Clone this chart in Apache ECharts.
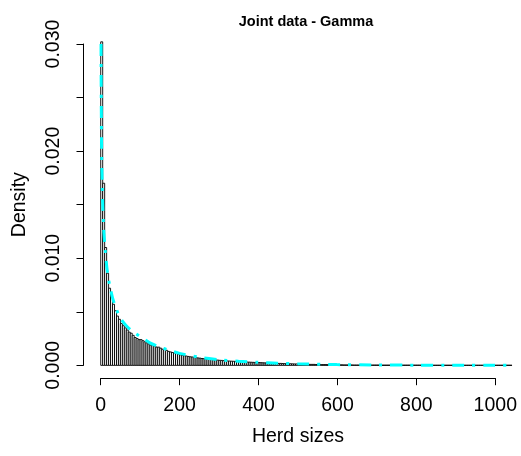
<!DOCTYPE html>
<html><head><meta charset="utf-8">
<script src="https://cdn.jsdelivr.net/npm/echarts@6/dist/echarts.min.js"></script>
<style>html,body{margin:0;padding:0;background:#fff}#c{width:521px;height:456px}</style>
</head><body><div id="c"></div>
<script>
// Histogram: bin width and density of each bin (bins start at 0)
const binWidth = 5;
const densities = [
  0.0302, 0.0170, 0.0110, 0.0086, 0.0072, 0.0064, 0.0057, 0.0051, 0.0046, 0.0043,
  0.0039, 0.0037, 0.0035, 0.0033, 0.0031, 0.0030, 0.0028, 0.0026, 0.0025, 0.0024,
  0.0024, 0.0023, 0.0022, 0.0021, 0.0020, 0.0019, 0.0019, 0.0018, 0.0017, 0.0017,
  0.0016, 0.0015, 0.0015, 0.0014, 0.0013, 0.00125, 0.0012, 0.00115, 0.0011, 0.00105,
  0.00098, 0.00094, 0.00090, 0.00087, 0.00083, 0.00080, 0.00078, 0.00075, 0.00072, 0.00069,
  0.00067, 0.00064, 0.00062, 0.00060, 0.00058, 0.00056, 0.00054, 0.00052, 0.00050, 0.00049,
  0.00047, 0.00046, 0.00044, 0.00043, 0.00041, 0.00040, 0.00039, 0.00038, 0.00037, 0.00036,
  0.00035, 0.00034, 0.00033, 0.00032, 0.00031, 0.00030, 0.00029, 0.00028, 0.00027, 0.00026,
  0.00026, 0.00025, 0.00024, 0.00023, 0.00023, 0.00022, 0.00021, 0.00020, 0.00020, 0.00019,
  0.00018, 0.00018, 0.00017, 0.00016, 0.00016, 0.00015, 0.00015, 0.00014, 0.00013, 0.00013,
  0.00012, 0.00012, 0.00011, 0.00011, 0.00010, 0.00010, 0.00009, 0.00009, 0.00009, 0.00008,
  0.00008, 0.00008, 0.00007, 0.00007, 0.00007, 0.00006, 0.00006, 0.00006, 0.00006, 0.00005,
  0.00005, 0.00005, 0.00005, 0.00004, 0.00004, 0.00004, 0.00004, 0.00004, 0.00003, 0.00003,
  0.00003, 0.00003, 0.00003, 0.00003, 0.00003, 0.00003, 0.00003, 0.00003, 0.00003, 0.00003,
  0.00003, 0.00003, 0.00002, 0.00002, 0.00002, 0.00002, 0.00002, 0.00002, 0.00002, 0.00002,
  0.00002, 0.00002, 0.00002, 0.00002, 0.00002, 0.00002, 0.00002, 0.00002, 0.00002, 0.00002,
  0.00002, 0.00002, 0.00002, 0.00002, 0.00002, 0.00001, 0.00001, 0.00001, 0.00001, 0.00001,
  0.00001, 0.00001, 0.00001, 0.00001, 0.00001, 0.00001, 0.00001, 0.00001, 0.00001, 0.00001,
  0.00001, 0.00001, 0.00001, 0.00001, 0.00001, 0.00001, 0.00001, 0.00001, 0.00001, 0.00001,
  0.00001, 0.00001, 0.00001, 0.00001, 0.00001, 0.00001, 0.00001, 0.00001, 0.00001, 0.00001,
  0.00001, 0.00001, 0.00001, 0.00001, 0.00001, 0.00001, 0.00001, 0.00001, 0.00001
];
// Fitted gamma density curve
const curveX = [0.75, 1, 2, 3, 5, 8, 12, 16, 22, 30, 40, 52, 65, 80, 100, 125, 150, 175, 200, 250, 300, 350, 400, 450, 500, 600, 700, 800, 900, 1000, 1045];
const curveY = [0.0300, 0.0271, 0.0211, 0.0182, 0.0150, 0.0124, 0.0105, 0.0090, 0.0076, 0.0063, 0.0052, 0.0043, 0.0037, 0.0032, 0.0027, 0.0021, 0.0017, 0.0014, 0.00112, 0.00076, 0.00053, 0.00038, 0.00028, 0.00020, 0.00014, 0.00007, 0.000035, 0.000018, 0.000009, 0.000005, 0.000003];
const xTicks = [0, 200, 400, 600, 800, 1000];
const yTicks = [0, 0.005, 0.010, 0.015, 0.020, 0.025, 0.030];
const yLabeled = [0, 0.010, 0.020, 0.030];

const FONT = 'Liberation Sans, Arial, sans-serif';
const chart = echarts.init(document.getElementById('c'), null, {renderer: 'canvas'});

const histData = densities.map((d, i) => [i * binWidth, (i + 1) * binWidth, d]);
const curveData = curveX.map((x, i) => [x, curveY[i]]);

chart.setOption({
  animation: false,
  backgroundColor: '#ffffff',
  title: {
    text: 'Joint data - Gamma',
    left: 301, top: 9, textAlign: 'center',
    textStyle: {fontFamily: FONT, fontSize: 14.5, fontWeight: 'bold', color: '#000'}
  },
  grid: [
    {left: 84.2, right: 5.1, top: 31.1, bottom: 77.8, containLabel: false, outerBoundsMode: 'none'},
    {left: 100.7, width: 394.6, top: 44, height: 321.3, containLabel: false, outerBoundsMode: 'none'}
  ],
  xAxis: [
    {gridIndex: 0, type: 'value', min: -42, max: 1055, show: false},
    {gridIndex: 1, type: 'value', min: xTicks[0], max: xTicks[xTicks.length - 1], interval: 200,
     position: 'bottom', offset: 12.9,
     axisLine: {show: true, onZero: false, lineStyle: {color: '#000', width: 1}},
     axisTick: {show: true, length: 7, lineStyle: {color: '#000', width: 1}},
     axisLabel: {show: true, margin: 17, fontFamily: FONT, fontSize: 19.5, color: '#000',
       hideOverlap: false, formatter: v => String(v)},
     splitLine: {show: false},
     name: 'Herd sizes', nameLocation: 'middle', nameGap: 48,
     nameTextStyle: {fontFamily: FONT, fontSize: 19.5, color: '#000'}}
  ],
  yAxis: [
    {gridIndex: 0, type: 'value', min: -0.0012, max: 0.0312, show: false},
    {gridIndex: 1, type: 'value', min: 0, max: 0.030, interval: 0.005,
     position: 'left', offset: 17.2,
     axisLine: {show: true, onZero: false, lineStyle: {color: '#000', width: 1}},
     axisTick: {show: true, length: 7, lineStyle: {color: '#000', width: 1}},
     axisLabel: {show: true, rotate: 90, margin: 20, fontFamily: FONT, fontSize: 19.5, color: '#000',
       hideOverlap: false,
       formatter: v => yLabeled.some(t => Math.abs(t - v) < 1e-9) ? v.toFixed(3) : ''},
     splitLine: {show: false},
     name: 'Density', nameLocation: 'middle', nameGap: 54,
     nameTextStyle: {fontFamily: FONT, fontSize: 19.5, color: '#000'}}
  ],
  series: [
    {
      type: 'custom', xAxisIndex: 0, yAxisIndex: 0,
      data: histData,
      encode: {x: [0, 1], y: 2},
      renderItem: function (params, api) {
        const p0 = api.coord([api.value(0), api.value(2)]);
        const p1 = api.coord([api.value(1), 0]);
        return {
          type: 'rect',
          shape: {x: p0[0], y: p0[1], width: p1[0] - p0[0], height: p1[1] - p0[1]},
          style: {fill: '#ffffff', stroke: '#000000', lineWidth: 0.9}
        };
      },
      clip: true, z: 2
    },
    {
      type: 'line', xAxisIndex: 0, yAxisIndex: 0,
      data: curveData, showSymbol: false, smooth: 0.2,
      lineStyle: {color: '#00FFFF', width: 3, type: [12, 8, 3, 8], cap: 'butt'},
      clip: true, z: 3
    }
  ]
});
</script>
</body></html>
